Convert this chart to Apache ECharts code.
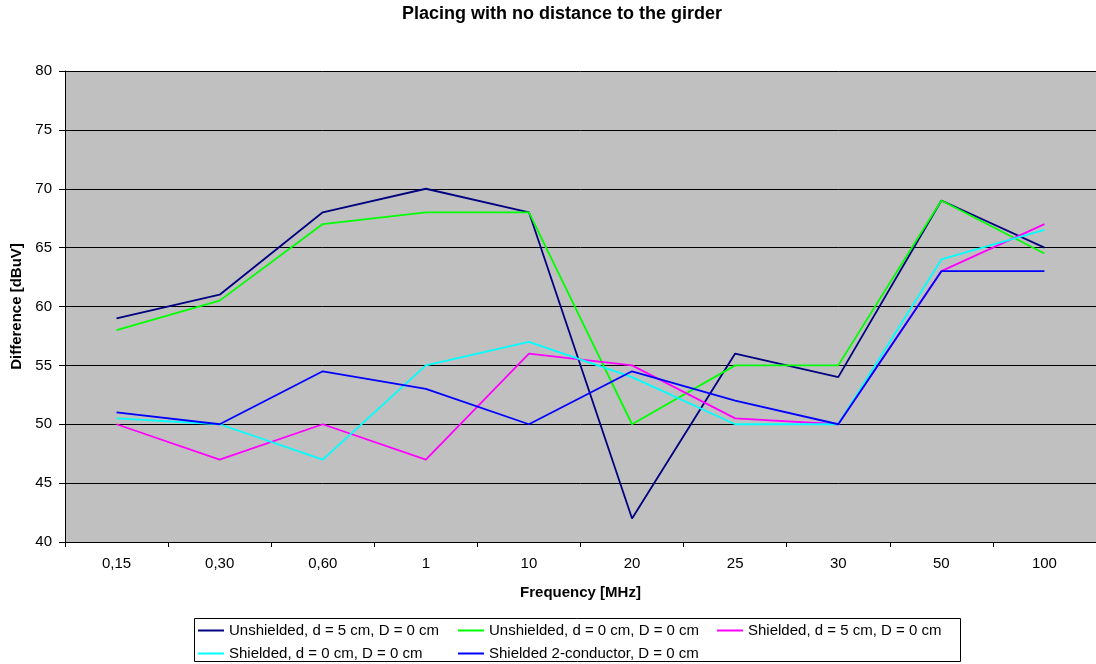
<!DOCTYPE html>
<html>
<head>
<meta charset="utf-8">
<title>Placing with no distance to the girder</title>
<script src="https://cdn.jsdelivr.net/npm/echarts@6/dist/echarts.min.js"></script>
<style>
  html, body { margin: 0; padding: 0; background: #fff; }
  #chart { width: 1096px; height: 664px; }
</style>
</head>
<body>
<div id="chart"></div>
<script>
// data
const frequencies = ['0,15', '0,30', '0,60', '1', '10', '20', '25', '30', '50', '100']
const unshielded5 = [59, 61, 68, 70, 68, 42, 56, 54, 69, 65]
const unshielded0 = [58, 60.5, 67, 68, 68, 50, 55, 55, 69, 64.5]
const shielded5 = [50, 47, 50, 47, 56, 55, 50.5, 50, 63, 67]
const shielded0 = [50.5, 50, 47, 55, 57, 54, 50, 50, 64, 66.5]
const shielded2c = [51, 50, 54.5, 53, 50, 54.5, 52, 50, 63, 63]
const seriesNames = [
  'Unshielded, d = 5 cm, D = 0 cm',
  'Unshielded, d = 0 cm, D = 0 cm',
  'Shielded, d = 5 cm, D = 0 cm',
  'Shielded, d = 0 cm, D = 0 cm',
  'Shielded 2-conductor, D = 0 cm'
]
const seriesValues = [unshielded5, unshielded0, shielded5, shielded0, shielded2c]
const seriesColors = ['#000080', '#00ff00', '#ff00ff', '#00ffff', '#0000ff']

const font = "'Liberation Sans', Arial, sans-serif"

// legend is laid out in three columns, like the Excel one
const legendColumns = [
  { left: 198, names: [seriesNames[0], seriesNames[3]] },
  { left: 458, names: [seriesNames[1], seriesNames[4]] },
  { left: 717, names: [seriesNames[2]] }
]

const myChart = echarts.init(document.getElementById('chart'))

const option = {
  animation: false,
  backgroundColor: '#fff',
  textStyle: { fontFamily: font, color: '#000' },
  title: {
    text: 'Placing with no distance to the girder',
    left: 557,
    top: 0,
    textAlign: 'center',
    textStyle: { fontSize: 18, fontWeight: 'bold', color: '#000', fontFamily: font }
  },
  grid: {
    left: 65,
    top: 71,
    width: 1038,
    height: 471,
    show: true,
    backgroundColor: '#c0c0c0',
    borderWidth: 0
  },
  legend: legendColumns.map(col => ({
    left: col.left,
    top: 623,
    orient: 'vertical',
    padding: 0,
    itemGap: 8,
    itemWidth: 26,
    itemHeight: 2,
    icon: 'rect',
    textStyle: { fontSize: 15, color: '#000', fontFamily: font },
    data: col.names
  })),
  // frame round the legend columns
  graphic: [{
    type: 'rect',
    shape: { x: 194.5, y: 618.5, width: 766, height: 43 },
    style: { fill: 'none', stroke: '#000', lineWidth: 1 },
    silent: true
  }],
  xAxis: {
    type: 'category',
    data: frequencies,
    boundaryGap: true,
    name: 'Frequency [MHz]',
    nameLocation: 'middle',
    nameGap: 43,
    nameTextStyle: { fontSize: 15, fontWeight: 'bold', color: '#000', fontFamily: font },
    axisLine: { lineStyle: { color: '#000', width: 1 } },
    axisTick: { show: true, inside: false, length: 5, lineStyle: { color: '#000' } },
    axisLabel: { fontSize: 15, color: '#000', margin: 14, fontFamily: font },
    splitLine: { show: false }
  },
  yAxis: {
    type: 'value',
    min: 40,
    max: 80,
    interval: 5,
    name: 'Difference [dBuV]',
    nameLocation: 'middle',
    nameGap: 39,
    nameRotate: 90,
    nameTextStyle: { fontSize: 15, fontWeight: 'bold', color: '#000', fontFamily: font },
    axisLine: { show: true, lineStyle: { color: '#000', width: 1 } },
    axisTick: { show: true, inside: false, length: 6, lineStyle: { color: '#000' } },
    axisLabel: { fontSize: 15, color: '#000', margin: 13, fontFamily: font },
    splitLine: { show: true, lineStyle: { color: '#000', width: 1 } }
  },
  series: seriesNames.map((name, i) => ({
    name: name,
    type: 'line',
    data: seriesValues[i],
    symbol: 'none',
    color: seriesColors[i],
    lineStyle: { width: 1.8, color: seriesColors[i] },
    emphasis: { disabled: true }
  }))
}

myChart.setOption(option)
window.addEventListener('resize', function () {
  myChart.resize()
})
</script>
</body>
</html>
